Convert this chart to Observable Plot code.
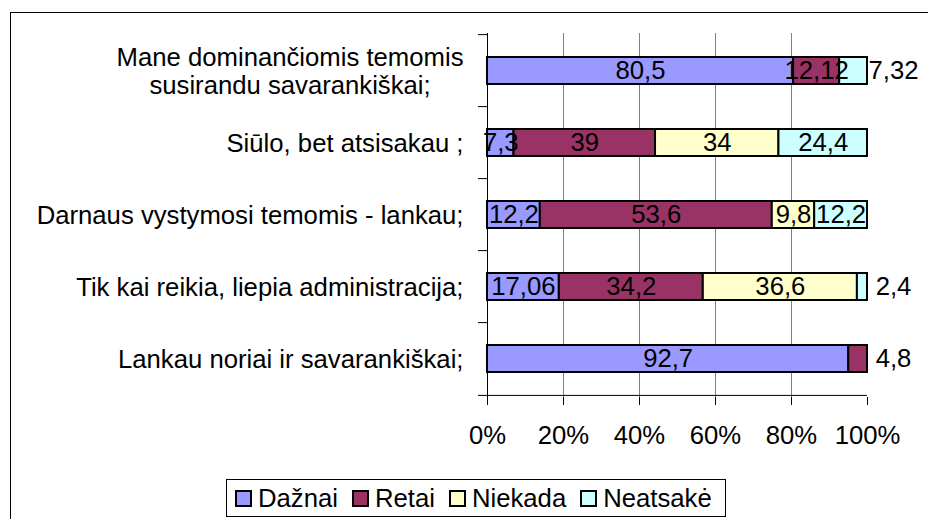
<!DOCTYPE html>
<html><head><meta charset="utf-8">
<script src="https://cdn.jsdelivr.net/npm/d3@7"></script>
<script src="https://cdn.jsdelivr.net/npm/@observablehq/plot@0.6"></script>
<style>
body{margin:0;background:#fff;}
#wrap{position:relative;width:928px;height:519px;overflow:hidden;font-family:Arial,"Liberation Sans",sans-serif;}
#frame{position:absolute;left:10px;top:12px;width:1000px;height:600px;border-left:1px solid #000;border-top:1px solid #000;}
#chart{position:absolute;left:0;top:0;}
#legend{position:absolute;left:226px;top:479px;width:500px;height:38px;border:1px solid #000;background:#fff;display:flex;align-items:center;box-sizing:border-box;padding-left:8px;font-size:25.7px;color:#000;white-space:nowrap;}
.item{display:flex;align-items:center;margin-right:14px;}
.sw{width:13px;height:13px;border:2px solid #000;margin-right:6px;}
</style></head><body>
<div id="wrap"><div id="frame"></div><div id="chart"></div><div id="legend"></div></div>
<script>
const categories = [
  "Mane dominančiomis temomis\nsusirandu savarankiškai;",
  "Siūlo, bet atsisakau ;",
  "Darnaus vystymosi temomis - lankau;",
  "Tik kai reikia, liepia administracija;",
  "Lankau noriai ir savarankiškai;"
];
const series = ["Dažnai", "Retai", "Niekada", "Neatsakė"];
const colors = ["#9999FF", "#993366", "#FFFFCC", "#CCFFFF"];
const dazn    = [80.5, 7.3, 12.2, 17.06, 92.7];
const retai   = [12.12, 39, 53.6, 34.2, 4.8];
const niekada = [null, 34, 9.8, 36.6, null];
const neats   = [7.32, 24.4, 12.2, 2.4, null];
const xTicks = [0, 0.2, 0.4, 0.6, 0.8, 1];

const seriesValues = [dazn, retai, niekada, neats];
const table = [];
categories.forEach((cat, i) => {
  const rows = [];
  series.forEach((s, j) => {
    const v = seriesValues[j][i];
    if (v != null && v > 0) rows.push({cat, series: s, value: v, outside: false});
  });
  const last = rows[rows.length - 1];
  if (last && last.value < 8) last.outside = true;
  table.push(...rows);
});
const fmt = v => String(v).replace(".", ",");

const W = 928, H = 519, mt = 33, mb = 122, ml = 487, mr = 61;
const step = (H - mt - mb) / categories.length;
const stackOpts = {x: "value", y: "cat", z: "series", offset: "normalize", order: series};

const plot = Plot.plot({
  width: W, height: H,
  marginTop: mt, marginBottom: mb, marginLeft: ml, marginRight: mr,
  style: {fontFamily: "Arial, 'Liberation Sans', sans-serif", fontSize: "25.7px", color: "#000", background: "transparent", overflow: "visible"},
  x: {domain: [0, 1]},
  y: {domain: categories, paddingInner: 0.62, paddingOuter: 0.31},
  color: {domain: series, range: colors},
  marks: [
    Plot.ruleX([0.2, 0.4, 0.6, 0.8], {stroke: "#808080"}),
    Plot.barX(table, Plot.stackX({...stackOpts, fill: "series", stroke: "#000", strokeWidth: 2})),
    Plot.text(table, Plot.stackX({...stackOpts, text: d => d.outside ? null : fmt(d.value), fill: "#000"})),
    Plot.text(table, Plot.stackX2({...stackOpts, text: d => d.outside ? fmt(d.value) : null, fill: "#000", dx: 26})),
    Plot.ruleX([0], {insetBottom: -8, stroke: "#000"}),
    Plot.ruleY(categories, {y: d => d, dy: -step / 2, x1: 0, x2: 0, insetLeft: -9, stroke: "#000"}),
    Plot.ruleY(categories.slice(-1), {y: d => d, dy: step / 2, x1: 0, x2: 1, insetLeft: -9, stroke: "#000"}),
    Plot.axisX({ticks: xTicks, tickFormat: d3.format(".0%"), tickSize: 8, tickPadding: 20, label: null}),
    Plot.axisY({tickSize: 0, tickPadding: 24, label: null, lineHeight: 1.09})
  ]
});
document.getElementById("chart").appendChild(plot);

// centre the lines of a multi-line category label on each other
plot.querySelectorAll("text").forEach(t => {
  const spans = t.querySelectorAll("tspan");
  if (spans.length < 2) return;
  const w = Math.max(...[...spans].map(s => s.getComputedTextLength()));
  t.setAttribute("text-anchor", "middle");
  spans.forEach(s => {
    const base = s.hasAttribute("x") ? +s.getAttribute("x") : 0;
    s.setAttribute("x", base - w / 2);
  });
});

const legend = document.getElementById("legend");
series.forEach((s, j) => {
  const item = document.createElement("div");
  item.className = "item";
  const sw = document.createElement("div");
  sw.className = "sw";
  sw.style.background = colors[j];
  const lab = document.createElement("span");
  lab.textContent = s;
  item.appendChild(sw);
  item.appendChild(lab);
  legend.appendChild(item);
});
</script>
</body></html>
